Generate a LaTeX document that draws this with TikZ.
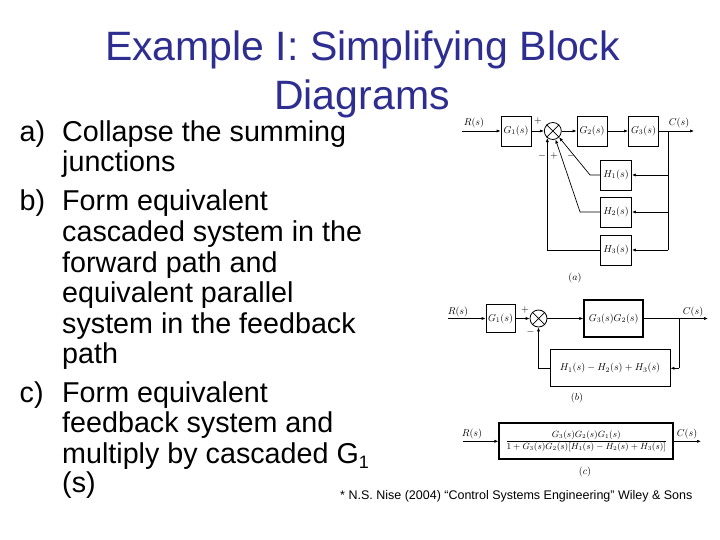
\documentclass[tikz,border=0pt]{standalone}
\usepackage{amsmath}
\usepackage{fontspec}
\setmainfont{Liberation Sans}
\usetikzlibrary{arrows.meta}
\definecolor{titleblue}{RGB}{46,46,145}
\tikzset{
  arr/.style={-{Latex[length=4pt,width=3.2pt]}, line width=0.7pt},
  ln/.style={line width=0.7pt},
  blk/.style={draw, line width=0.9pt, inner sep=1pt, font=\fontsize{10}{11}\selectfont},
  thickblk/.style={draw, line width=1.8pt, inner sep=1pt, font=\fontsize{10}{11}\selectfont},
  sumj/.style={draw, circle, line width=0.8pt, minimum size=17pt, inner sep=0pt},
  lbl/.style={font=\fontsize{10}{11}\selectfont, inner sep=0pt},
  sgn/.style={font=\fontsize{10}{11}\selectfont, inner sep=0pt},
  body/.style={anchor=base west, inner sep=0pt, font=\fontsize{28.7}{30}\selectfont},
  ttl/.style={anchor=base, inner sep=0pt, text=titleblue, font=\fontsize{41}{44}\selectfont},
}
\begin{document}
\begin{tikzpicture}[x=1pt,y=-1pt]
\useasboundingbox (0,0) rectangle (720,540);
\fill[white] (0,0) rectangle (720,540);

% Title
\node[ttl] (t1) at (362.5,61) {Example I: Simplifying Block};
\node[ttl] (t2) at (362,110) {Diagrams};

% Body text
\node[body] (la) at (19.5,141.5) {a)};
\node[body] (a1) at (62,141.5) {Collapse the summing};
\node[body] (a2) at (62,172) {junctions};
\node[body] (lb) at (19.5,211) {b)};
\node[body] (b1) at (62,211) {Form equivalent};
\node[body] (b2) at (62,241.5) {cascaded system in the};
\node[body] (b3) at (62,272) {forward path and};
\node[body] (b4) at (62,302.3) {equivalent parallel};
\node[body] (b5) at (62,333) {system in the feedback};
\node[body] (b6) at (62,363) {path};
\node[body] (lc) at (19.5,402) {c)};
\node[body] (c1) at (62,402) {Form equivalent};
\node[body] (c2) at (62,432.5) {feedback system and};
\node[body] (c3) at (62,463) {multiply by cascaded G{\fontsize{18}{18}\selectfont\raisebox{-5pt}{1}}};
\node[body] (c4) at (62,492.5) {(s)};

% Footnote
\node[anchor=base west, inner sep=0pt, font=\fontsize{12.5}{13}\selectfont] (fn) at (340,499) {* N.S. Nise (2004) “Control Systems Engineering” Wiley \& Sons};

% ---------------- Diagram (a)
\coordinate (ina) at (462,131);
\node[blk, minimum width=30pt, minimum height=30pt] (G1a) at (516,131) {$G_1(s)$};
\node[sumj] (suma) at (552.8,131) {};
\draw[ln] (suma.45) -- (suma.225) (suma.135) -- (suma.-45);
\node[blk, minimum width=30pt, minimum height=30pt] (G2a) at (592,131) {$G_2(s)$};
\node[blk, minimum width=30pt, minimum height=30pt] (G3a) at (643.5,131) {$G_3(s)$};
\coordinate (bra) at (668,131);
\coordinate (outa) at (694,131);
\node[blk, minimum width=31pt, minimum height=30pt] (H1a) at (616,175) {$H_1(s)$};
\node[blk, minimum width=31pt, minimum height=30pt] (H2a) at (616,212) {$H_2(s)$};
\node[blk, minimum width=31pt, minimum height=30pt] (H3a) at (616,250) {$H_3(s)$};
\coordinate (bra3) at (668,250);

\node[lbl] (Ra) at (474,123) {$R(s)$};
\node[lbl] (Ca) at (679,123) {$C(s)$};
\node[sgn] (pa) at (538,121) {$+$};
\node[sgn] (m1a) at (542,156) {$-$};
\node[sgn] (p2a) at (554,156) {$+$};
\node[sgn] (m3a) at (571,156) {$-$};
\node[lbl] (capa) at (575,278) {$(a)$};

\draw[arr] (ina) -- (G1a.west);
\draw[arr] (G1a.east) -- (suma.west);
\draw[arr] (suma.east) -- (G2a.west);
\draw[arr] (G2a.east) -- (G3a.west);
\draw[arr] (G3a.east) -- (outa);
\draw[ln] (bra) -- (bra3);
\draw[arr] (bra |- H1a.east) -- (H1a.east);
\draw[arr] (bra |- H2a.east) -- (H2a.east);
\draw[arr] (bra3) -- (H3a.east);
\draw[arr] (H1a.west) -- ++(-10,0) -- (suma.-45);
\draw[arr] (H2a.west) -- ++(-20,0) -- (suma.-72);
\draw[arr] (H3a.west) -| (suma.-128);

% ---------------- Diagram (b)
\coordinate (inb) at (448,318.5);
\node[blk, minimum width=29pt, minimum height=28pt] (G1b) at (500.5,318.5) {$G_1(s)$};
\node[sumj] (sumb) at (538.5,318.5) {};
\draw[ln] (sumb.45) -- (sumb.225) (sumb.135) -- (sumb.-45);
\node[thickblk, minimum width=59pt, minimum height=37pt] (G32b) at (613.7,318.5) {$G_3(s)G_2(s)$};
\coordinate (brb) at (679.3,318.5);
\coordinate (outb) at (708,318.5);
\node[blk, minimum width=120pt, minimum height=37pt] (FBb) at (610,368.3) {$H_1(s)-H_2(s)+H_3(s)$};
\coordinate (brb2) at (679.3,368.3);

\node[lbl] (Rb) at (458,312) {$R(s)$};
\node[lbl] (Cb) at (693,312) {$C(s)$};
\node[sgn] (pb) at (525,310) {$+$};
\node[sgn] (mb) at (530.5,332) {$-$};
\node[lbl] (capb) at (577,398) {$(b)$};

\draw[arr] (inb) -- (G1b.west);
\draw[arr] (G1b.east) -- (sumb.west);
\draw[arr] (sumb.east) -- (G32b.west);
\draw[arr] (G32b.east) -- (outb);
\draw[ln] (brb) -- (brb2);
\draw[arr] (brb2) -- (FBb.east);
\draw[arr] (FBb.west) -| (sumb.south);

% ---------------- Diagram (c)
\coordinate (inc) at (462.7,441.3);
\node[thickblk, minimum width=174pt, minimum height=36pt, inner sep=0pt, font=\fontsize{9.1}{10}\selectfont] (Tc) at (586.3,441.3)
  {$\dfrac{G_3(s)G_2(s)G_1(s)}{1+G_3(s)G_2(s)[H_1(s)-H_2(s)+H_3(s)]}$};
\coordinate (outc) at (701,441.3);
\node[lbl] (Rc) at (472,434) {$R(s)$};
\node[lbl] (Cc) at (687,434) {$C(s)$};
\node[lbl] (capc) at (585,472) {$(c)$};

\draw[arr] (inc) -- (Tc.west);
\draw[arr] (Tc.east) -- (outc);
\end{tikzpicture}
\end{document}
